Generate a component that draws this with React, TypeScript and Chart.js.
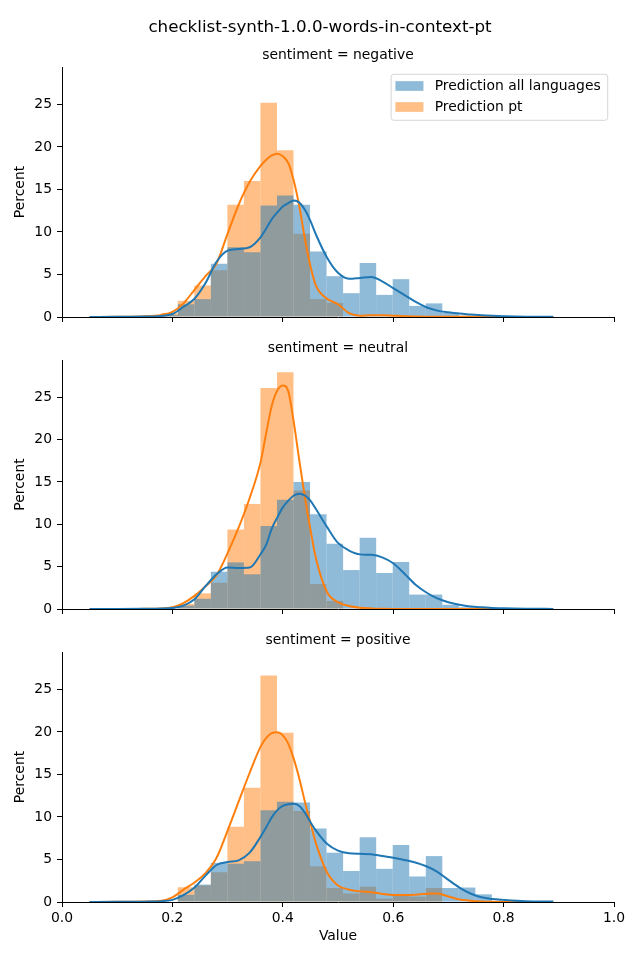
import React, { useEffect, useRef } from "react";
import { Chart, registerables } from "chart.js";

Chart.register(...registerables);

// ---------------- data ----------------
const figureTitle = "checklist-synth-1.0.0-words-in-context-pt";
const panelTitles = ["sentiment = negative", "sentiment = neutral", "sentiment = positive"];
const seriesLabels = ["Prediction all languages", "Prediction pt"];
const xTicks = [0, 0.2, 0.4, 0.6, 0.8, 1.0];
const yTicks = [0, 5, 10, 15, 20, 25];

const binCenters = [
  0.1948, 0.2247, 0.2547, 0.2846, 0.3146, 0.3445, 0.3745, 0.4044, 0.4344, 0.4643,
  0.4943, 0.5242, 0.5542, 0.5841, 0.6141, 0.6440, 0.6740, 0.7039, 0.7339, 0.7638,
];

const negAll = [0.25, 1.5, 2.1, 6.25, 8.2, 7.6, 13.1, 14.3, 13.2, 7.7, 4.8, 2.8, 6.35, 2.6, 4.45, 1.3, 1.6, 0.5, 0.15, 0.05];
const negPt = [0.45, 1.9, 3.7, 5.5, 13.2, 16.0, 25.2, 19.6, 9.8, 2.1, 1.65, 0, 0, 0, 0, 0, 0, 0, 0, 0];
const neuAll = [0.05, 0.4, 1.2, 4.4, 5.5, 4.1, 9.8, 12.9, 15.0, 11.2, 7.7, 4.6, 8.4, 4.25, 5.55, 1.7, 1.7, 0.5, 0.2, 0.1];
const neuPt = [0, 0.6, 1.85, 3.1, 9.4, 12.4, 26.1, 27.95, 14.0, 2.95, 0.95, 0, 0, 0, 0, 0, 0, 0, 0, 0];
const posAll = [0, 0.85, 2.05, 4.6, 4.5, 4.8, 10.8, 11.8, 11.7, 8.65, 5.8, 3.65, 7.6, 3.9, 6.7, 3.0, 5.4, 1.65, 1.7, 0.9];
const posPt = [0, 1.73, 1.95, 3.5, 8.85, 13.45, 26.65, 19.9, 10.7, 4.2, 1.65, 1.0, 1.8, 0.4, 0.75, 0.63, 1.65, 0, 0, 0];

const kdeX = [
  0.05, 0.10, 0.15, 0.18, 0.20, 0.22, 0.24, 0.26, 0.28, 0.30, 0.32, 0.34, 0.36,
  0.37, 0.38, 0.39, 0.40, 0.41, 0.42, 0.43, 0.44, 0.45,
  0.46, 0.48, 0.50, 0.52, 0.54, 0.56, 0.58, 0.60, 0.62, 0.64, 0.66, 0.68, 0.70,
  0.72, 0.74, 0.76, 0.78, 0.80, 0.84, 0.89,
];

const negAllKde = [
  0.0, 0.02, 0.05, 0.12, 0.35, 1.2, 2.15, 4.0, 6.5, 7.8, 8.0, 8.2, 9.4,
  10.4, 11.5, 12.3, 13.0, 13.4, 13.7, 13.45, 12.6, 11.3,
  9.7, 7.0, 5.2, 4.5, 4.6, 4.7, 4.2, 3.4, 2.6, 1.8, 1.15, 0.75, 0.55,
  0.4, 0.3, 0.2, 0.14, 0.1, 0.04, 0.02,
];
const negPtKde = [
  0.0, 0.02, 0.08, 0.25, 0.6, 1.6, 3.2, 4.8, 6.3, 9.8, 13.2, 15.9, 17.8,
  18.5, 19.0, 19.2, 18.9, 18.1, 16.0, 13.0, 9.2, 6.0,
  3.7, 2.15, 1.5, 0.45, 0.15, 0.2, 0.2, 0.15, 0.1, 0.06, 0.04, 0.03, 0.03,
  0.02, 0.02, 0.01, 0.01, 0.0, 0.0, 0.0,
];
const neuAllKde = [
  0.0, 0.0, 0.02, 0.05, 0.12, 0.4, 1.15, 2.7, 4.1, 4.9, 4.85, 4.9, 6.5,
  7.6, 9.5, 10.8, 12.0, 12.8, 13.4, 13.6, 13.4, 12.8,
  11.8, 9.7, 7.8, 6.9, 6.45, 6.4, 6.1, 5.4, 4.2, 2.9, 1.95, 1.25, 0.8,
  0.5, 0.3, 0.2, 0.13, 0.08, 0.03, 0.01,
];
const neuPtKde = [
  0.0, 0.0, 0.02, 0.05, 0.2, 0.7, 1.55, 2.7, 4.0, 6.6, 9.6, 13.1, 17.4,
  20.8, 24.0, 25.8, 26.4, 25.7, 22.0, 17.5, 13.2, 9.4,
  6.0, 2.0, 0.8, 0.35, 0.15, 0.07, 0.03, 0.01, 0.0, 0.0, 0.0, 0.0, 0.0,
  0.0, 0.0, 0.0, 0.0, 0.0, 0.0, 0.0,
];
const posAllKde = [
  0.0, 0.02, 0.04, 0.1, 0.25, 0.8, 1.7, 3.1, 4.35, 4.7, 4.9, 5.8, 7.7,
  8.8, 9.95, 10.8, 11.3, 11.5, 11.55, 11.3, 10.5, 9.4,
  8.4, 6.85, 6.05, 5.72, 5.66, 5.62, 5.4, 5.2, 4.95, 4.65, 4.2, 3.55, 2.6,
  1.7, 1.0, 0.55, 0.35, 0.25, 0.1, 0.05,
];
const posPtKde = [
  0.0, 0.02, 0.06, 0.15, 0.55, 1.45, 2.3, 3.4, 5.2, 8.4, 11.8, 15.2, 18.3,
  19.3, 19.85, 19.95, 19.6, 18.6, 16.8, 14.5, 11.8, 9.3,
  6.9, 3.5, 1.95, 1.45, 1.25, 1.15, 0.95, 0.83, 0.82, 0.85, 0.98, 1.0, 0.65,
  0.3, 0.15, 0.06, 0.03, 0.02, 0.0, 0.0,
];

// ---------------- styling ----------------
const FONT = "'DejaVu Sans', 'Liberation Sans', sans-serif";
const FS = 13.9;
const BLUE = "#1f77b4";
const ORANGE = "#ff7f0e";
const BLUE_FILL = "rgba(31,119,180,0.5)";
const ORANGE_FILL = "rgba(255,127,14,0.5)";
const Y_MAX = 29.4;

type PanelProps = {
  top: number;
  height: number;
  padTop: number;
  axisH: number;
  showX: boolean;
  title: string;
  allBars: number[];
  ptBars: number[];
  allKde: number[];
  ptKde: number[];
  legend: boolean;
  suptitle: boolean;
};

function makeTextPlugin(p: PanelProps) {
  return {
    id: "panelText",
    afterDraw(chart: any) {
      const { ctx, chartArea } = chart;
      ctx.save();
      ctx.fillStyle = "#000";
      ctx.textAlign = "center";
      ctx.textBaseline = "alphabetic";
      ctx.font = `${FS}px ${FONT}`;
      ctx.fillText(p.title, (chartArea.left + chartArea.right) / 2, chartArea.top - 8.3);
      if (p.suptitle) {
        ctx.font = `16.7px ${FONT}`;
        ctx.fillText(figureTitle, 320, 32);
      }
      if (p.legend) {
        ctx.font = `${FS}px ${FONT}`;
        const colors = [BLUE_FILL, ORANGE_FILL];
        const w = Math.max(...seriesLabels.map((l) => ctx.measureText(l).width));
        const right = chartArea.right - 6.3;
        const left = right - (43.6 + w + 7);
        const t = chartArea.top + 7.3;
        const b = chartArea.top + 53.3;
        const r = 2.8;
        ctx.beginPath();
        ctx.moveTo(left + r, t);
        ctx.lineTo(right - r, t);
        ctx.arcTo(right, t, right, t + r, r);
        ctx.lineTo(right, b - r);
        ctx.arcTo(right, b, right - r, b, r);
        ctx.lineTo(left + r, b);
        ctx.arcTo(left, b, left, b - r, r);
        ctx.lineTo(left, t + r);
        ctx.arcTo(left, t, left + r, t, r);
        ctx.closePath();
        ctx.fillStyle = "rgba(255,255,255,0.8)";
        ctx.fill();
        ctx.strokeStyle = "rgba(204,204,204,0.8)";
        ctx.lineWidth = 1;
        ctx.stroke();
        const rows = [t + 11.7, t + 32.7];
        seriesLabels.forEach((label, i) => {
          ctx.fillStyle = colors[i];
          ctx.fillRect(left + 4.3, rows[i] - 4.85, 28, 9.7);
          ctx.fillStyle = "#000";
          ctx.textAlign = "left";
          ctx.textBaseline = "middle";
          ctx.fillText(label, left + 43.6, rows[i] + 0.5);
        });
      }
      ctx.restore();
    },
  };
}

function Panel(p: PanelProps) {
  const ref = useRef<HTMLCanvasElement | null>(null);
  useEffect(() => {
    if (!ref.current) return;
    const font = { family: FONT, size: FS };
    const chart = new Chart(ref.current, {
      type: "bar",
      data: {
        datasets: [
          {
            type: "line",
            label: seriesLabels[0] + " kde",
            data: kdeX.map((x, i) => ({ x, y: p.allKde[i] })),
            borderColor: BLUE,
            borderWidth: 2,
            pointRadius: 0,
            cubicInterpolationMode: "monotone",
            fill: false,
            order: 0,
          } as any,
          {
            type: "line",
            label: seriesLabels[1] + " kde",
            data: kdeX.map((x, i) => ({ x, y: p.ptKde[i] })),
            borderColor: ORANGE,
            borderWidth: 2,
            pointRadius: 0,
            cubicInterpolationMode: "monotone",
            fill: false,
            order: 1,
          } as any,
          {
            type: "bar",
            label: seriesLabels[0],
            data: binCenters.map((x, i) => ({ x, y: p.allBars[i] })),
            backgroundColor: BLUE_FILL,
            borderWidth: 0,
            grouped: false,
            barPercentage: 1,
            categoryPercentage: 1,
            inflateAmount: 0,
            order: 2,
          } as any,
          {
            type: "bar",
            label: seriesLabels[1],
            data: binCenters.map((x, i) => ({ x, y: p.ptBars[i] })),
            backgroundColor: ORANGE_FILL,
            borderWidth: 0,
            grouped: false,
            barPercentage: 1,
            categoryPercentage: 1,
            inflateAmount: 0,
            order: 3,
          } as any,
        ],
      },
      options: {
        responsive: false,
        animation: false,
        devicePixelRatio: 1,
        events: [],
        layout: { padding: { top: p.padTop, right: 26, bottom: 0, left: 0 } },
        plugins: {
          legend: { display: false },
          tooltip: { enabled: false },
          title: { display: false },
        },
        scales: {
          x: {
            type: "linear",
            min: 0,
            max: 1,
            offset: false,
            grid: {
              display: true,
              drawOnChartArea: false,
              drawTicks: true,
              tickLength: 5,
              color: "#000",
              tickColor: "#000",
              lineWidth: 1,
              offset: false,
            },
            border: { display: true, color: "#000", width: 1 },
            afterBuildTicks: (scale: any) => {
              scale.ticks = xTicks.map((v) => ({ value: v }));
            },
            ticks: {
              display: p.showX,
              padding: 3,
              color: "#000",
              font,
              maxRotation: 0,
              autoSkip: false,
              callback: (v: any) => Number(v).toFixed(1),
            },
            title: {
              display: p.showX,
              text: "Value",
              color: "#000",
              font,
              padding: { top: 0, bottom: 15 },
            },
            afterFit: (scale: any) => {
              scale.height = p.axisH;
            },
          },
          y: {
            type: "linear",
            min: 0,
            max: Y_MAX,
            grid: {
              display: true,
              drawOnChartArea: false,
              drawTicks: true,
              tickLength: 5,
              color: "#000",
              tickColor: "#000",
              lineWidth: 1,
            },
            border: { display: true, color: "#000", width: 1 },
            afterBuildTicks: (scale: any) => {
              scale.ticks = yTicks.map((v) => ({ value: v }));
            },
            ticks: {
              padding: 5,
              color: "#000",
              font,
              callback: (v: any) => String(v),
            },
            title: {
              display: true,
              text: "Percent",
              color: "#000",
              font,
              padding: { top: 12.5, bottom: 0 },
            },
            afterFit: (scale: any) => {
              scale.width = 62;
            },
          },
        },
      } as any,
      plugins: [makeTextPlugin(p)],
    });
    return () => chart.destroy();
  }, []);
  return (
    <canvas
      ref={ref}
      width={640}
      height={p.height}
      style={{ position: "absolute", left: 0, top: p.top, display: "block", width: 640, height: p.height }}
    />
  );
}

export default function App() {
  return (
    <div style={{ position: "absolute", left: 0, top: 0, width: 640, height: 960, background: "#fff" }}>
      <Panel top={0} height={331} padTop={67} axisH={14} showX={false} title={panelTitles[0]}
        allBars={negAll} ptBars={negPt} allKde={negAllKde} ptKde={negPtKde} legend={true} suptitle={true} />
      <Panel top={331} height={292} padTop={29} axisH={14} showX={false} title={panelTitles[1]}
        allBars={neuAll} ptBars={neuPt} allKde={neuAllKde} ptKde={neuPtKde} legend={false} suptitle={false} />
      <Panel top={623} height={337} padTop={29} axisH={58} showX={true} title={panelTitles[2]}
        allBars={posAll} ptBars={posPt} allKde={posAllKde} ptKde={posPtKde} legend={false} suptitle={false} />
    </div>
  );
}
